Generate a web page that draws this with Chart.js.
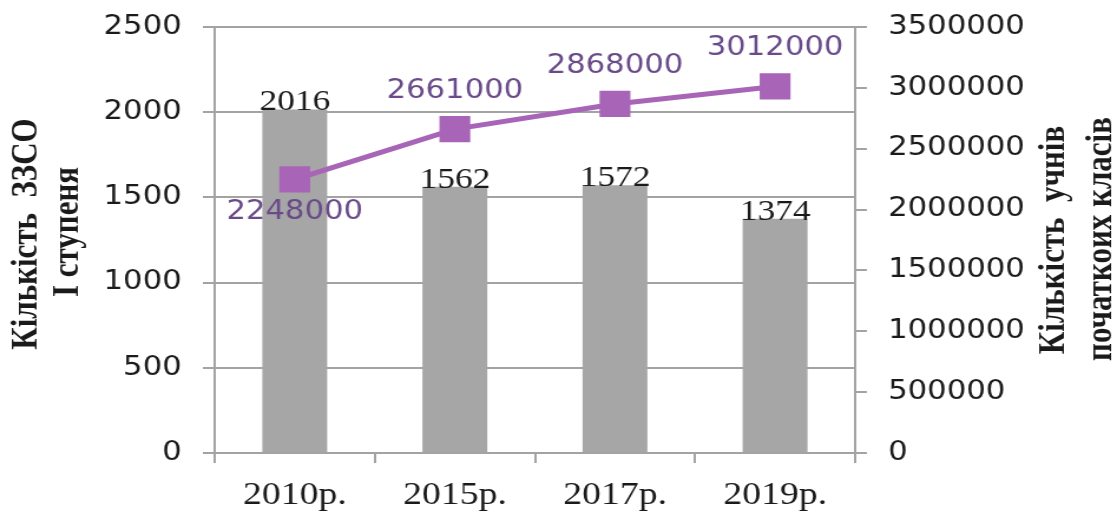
<!DOCTYPE html>
<html>
<head>
<meta charset="utf-8">
<script src="https://cdn.jsdelivr.net/npm/chart.js@4.4.1/dist/chart.umd.min.js"></script>
<style>
  html, body { margin: 0; padding: 0; background: #ffffff; overflow: hidden; }
  #wrap { width: 947px; height: 515px; transform: scaleX(1.1795); transform-origin: 0 0; }
</style>
</head>
<body>
<div id="wrap"><canvas id="c" width="947" height="515" style="width:947px;height:515px"></canvas></div>
<script>
// ---- data ----
const categories = ['2010р.', '2015р.', '2017р.', '2019р.'];
const schools = [2016, 1562, 1572, 1374];            // Кількість ЗЗСО І ступеня (left axis)
const pupils = [2248000, 2661000, 2868000, 3012000]; // Кількість учнів початкових класів (right axis)
const leftTicks = [0, 500, 1000, 1500, 2000, 2500];
const rightTicks = [0, 500000, 1000000, 1500000, 2000000, 2500000, 3000000, 3500000];
const leftTitle = ['Кількість  ЗЗСО', 'І ступеня'];
const rightTitle = ['Кількість  учнів', 'початкоих класів'];

const gridColor = '#a3a3a3';
const textColor = '#1a1a1a';
const lineColor = '#a865b8';
const lineLabelColor = '#6a4b8a';

const labelsPlugin = {
  id: 'labelsPlugin',
  afterDatasetsDraw(chart) {
    const ctx = chart.ctx;
    ctx.save();
    // bar labels
    const barMeta = chart.getDatasetMeta(1);
    ctx.font = '30px "Liberation Serif", "Times New Roman", serif';
    ctx.fillStyle = textColor;
    ctx.textAlign = 'center';
    ctx.textBaseline = 'alphabetic';
    barMeta.data.forEach((el, i) => {
      ctx.fillText(String(schools[i]), el.x, el.y + 1);
    });
    // line labels
    const lineMeta = chart.getDatasetMeta(0);
    ctx.font = '26px "DejaVu Sans", Verdana, sans-serif';
    ctx.fillStyle = lineLabelColor;
    lineMeta.data.forEach((el, i) => {
      const y = i === 0 ? el.y + 40 : el.y - 31;
      ctx.fillText(String(pupils[i]), el.x, y);
    });
    // axis titles
    ctx.font = 'bold 31px "Liberation Serif", "Times New Roman", serif';
    ctx.fillStyle = textColor;
    ctx.textBaseline = 'middle';
    const ca = chart.chartArea;
    const drawRot = (txt, x, y) => {
      ctx.save();
      ctx.translate(x, y);
      ctx.rotate(-Math.PI / 2);
      ctx.fillText(txt, 0, 0);
      ctx.restore();
    };
    const cy = (ca.top + ca.bottom) / 2;
    drawRot(leftTitle[0], 23, cy - 6);
    drawRot(leftTitle[1], 58, cy - 8);
    drawRot(rightTitle[0], ca.right + 169, cy);
    drawRot(rightTitle[1], ca.right + 209, cy - 1);
    ctx.restore();
  }
};

new Chart(document.getElementById('c'), {
  data: {
    labels: categories,
    datasets: [
      {
        type: 'line',
        label: 'Кількість учнів початкових класів',
        data: pupils,
        yAxisID: 'y1',
        borderColor: lineColor,
        backgroundColor: lineColor,
        borderWidth: 5,
        pointStyle: 'rect',
        pointRadius: 18.5,
        pointHoverRadius: 18.5,
        pointBorderWidth: 0,
        pointBackgroundColor: lineColor,
        tension: 0,
        order: 0
      },
      {
        type: 'bar',
        label: 'Кількість ЗЗСО І ступеня',
        data: schools,
        yAxisID: 'y',
        backgroundColor: '#a6a6a6',
        borderWidth: 0,
        categoryPercentage: 1.0,
        barPercentage: 0.405,
        order: 1
      }
    ]
  },
  options: {
    responsive: false,
    animation: false,
    devicePixelRatio: 1,
    layout: { padding: { top: 27, left: 0, right: 0, bottom: 0 } },
    plugins: { legend: { display: false }, tooltip: { enabled: false } },
    scales: {
      x: {
        offset: true,
        grid: { offset: true, drawOnChartArea: false, color: gridColor, lineWidth: 2, tickLength: 10 },
        border: { display: true, color: gridColor, width: 2 },
        ticks: { color: textColor, padding: 13, font: { family: '"Liberation Serif", "Times New Roman", serif', size: 32 } },
        afterFit(s) { s.height = 62; s.paddingLeft = 0; s.paddingRight = 0; }
      },
      y: {
        position: 'left',
        min: 0, max: 2500,
        afterBuildTicks(s) { s.ticks = leftTicks.map(v => ({ value: v })); },
        grid: { color: gridColor, lineWidth: 2, tickLength: 10 },
        border: { display: true, color: gridColor, width: 2 },
        ticks: { color: textColor, padding: 18, callback: v => String(v), font: { family: '"DejaVu Sans", Verdana, sans-serif', size: 26 } },
        afterFit(s) { s.width = 182; s.paddingTop = 0; s.paddingBottom = 0; }
      },
      y1: {
        position: 'right',
        min: 0, max: 3500000,
        afterBuildTicks(s) { s.ticks = rightTicks.map(v => ({ value: v })); },
        grid: { drawOnChartArea: false, color: gridColor, lineWidth: 2, tickLength: 10 },
        border: { display: true, color: gridColor, width: 2 },
        ticks: { color: textColor, padding: 18, callback: v => String(v), font: { family: '"DejaVu Sans", Verdana, sans-serif', size: 26 } },
        afterFit(s) { s.width = 222; s.paddingTop = 0; s.paddingBottom = 0; }
      }
    }
  },
  plugins: [labelsPlugin]
});
</script>
</body>
</html>
